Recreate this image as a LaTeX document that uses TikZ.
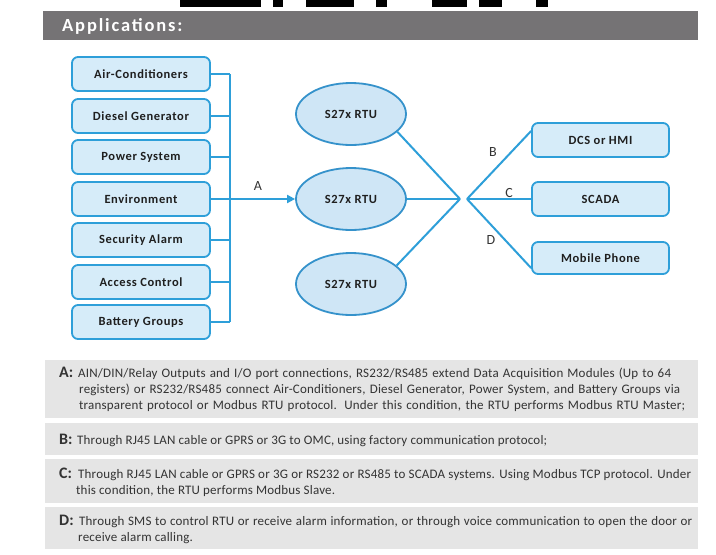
\documentclass[tikz,border=0pt]{standalone}
\usepackage{fontspec}
\setmainfont{Carlito}
\usetikzlibrary{shapes.geometric,arrows.meta}
\definecolor{hdr}{HTML}{757375}
\definecolor{boxfill}{HTML}{D6ECF9}
\definecolor{boxline}{HTML}{2E9FD9}
\definecolor{ellfill}{HTML}{CFE6F6}
\definecolor{ellline}{HTML}{3592CB}
\definecolor{panel}{HTML}{E5E5E5}
\definecolor{ptext}{HTML}{333333}
\newcommand\fitline[2]{\makebox[#1][s]{#2}}
\begin{document}
\begin{tikzpicture}[x=1pt,y=-1pt,
  appbox/.style={draw=boxline, line width=1.8pt, fill=boxfill, rounded corners=6pt,
    minimum width=138pt, minimum height=34pt, inner sep=0pt,
    font=\bfseries\fontsize{12.5}{14}\selectfont\addfontfeatures{LetterSpace=5}, text=black!88},
  rtu/.style={ellipse, draw=ellline, line width=1.8pt, fill=ellfill,
    minimum width=110pt, minimum height=62pt, inner sep=0pt,
    font=\bfseries\fontsize{12.5}{14}\selectfont\addfontfeatures{LetterSpace=5}, text=black!88},
  link/.style={draw=boxline, line width=2pt},
  lbl/.style={font=\fontsize{14}{14}\selectfont, text=black!80, inner sep=0pt},
  key/.style={font=\bfseries\fontsize{16}{16}\selectfont, text=ptext, anchor=base west, inner sep=0pt},
  desc/.style={font=\fontsize{13}{16}\selectfont\addfontfeatures{LetterSpace=1.5}, text=ptext, anchor=base west, inner sep=0pt},
  redact/.style={fill=black}
]
\useasboundingbox (0,0) rectangle (716,555);
\fill[white] (0,0) rectangle (716,555);
% redaction bars at top
\fill[redact] (180,0) rectangle (261,7);
\fill[redact] (273,0) rectangle (283,7);
\fill[redact] (306,0) rectangle (354,7);
\fill[redact] (376,0) rectangle (387,7);
\fill[redact] (432,0) rectangle (467,7);
\fill[redact] (479,0) rectangle (502,7);
\fill[redact] (536,0) rectangle (548,7);
% header
\node[fill=hdr, anchor=north west, minimum width=655pt, minimum height=29pt, inner sep=0pt] (header) at (43,11) {};
\node[anchor=base west, inner sep=0pt, text=white, font=\bfseries\fontsize{18.5}{20}\selectfont\addfontfeatures{LetterSpace=10}] (title) at (62,31) {Applications:};
% source boxes
\node[appbox] (ac)  at (141,74)  {Air-Conditioners};
\node[appbox] (dg)  at (141,116) {Diesel Generator};
\node[appbox] (ps)  at (141,157) {Power System};
\node[appbox] (env) at (141,199) {Environment};
\node[appbox] (sa)  at (141,240) {Security Alarm};
\node[appbox] (acc) at (141,282) {Access Control};
\node[appbox] (bg)  at (141,322) {Battery Groups};
% bus
\coordinate (bustop) at (230,74);
\coordinate (busbot) at (230,322);
\draw[link] (bustop) -- (busbot);
\foreach \n in {ac,dg,ps,sa,acc,bg}{\draw[link] (\n.east) -- (\n.east -| bustop);}
% RTUs
\node[rtu] (r1) at (351,114) {S27x RTU};
\node[rtu] (r2) at (351,199) {S27x RTU};
\node[rtu] (r3) at (351,284) {S27x RTU};
\draw[link,-{Triangle[length=8pt,width=8pt]}] (env.east) -- (r2.west);
\node[lbl] (la) at (258,186) {A};
% fan
\coordinate (fl) at (460,199);
\coordinate (fr) at (467,199);
\draw[link] (r1.-21) -- (fl);
\draw[link] (r2.east) -- (fl);
\draw[link] (r3.22) -- (fl);
% targets
\node[appbox, minimum width=137pt] (dcs) at (600.5,140) {DCS or HMI};
\node[appbox, minimum width=137pt] (scada) at (600.5,199) {SCADA};
\node[appbox, minimum width=137pt, minimum height=32pt] (mob) at (600.5,258) {Mobile Phone};
\draw[link] (fr) -- ([yshift=9pt]dcs.west);
\draw[link] (fr) -- (scada.west);
\draw[link] (fr) -- ([yshift=-10pt]mob.west);
\node[lbl] (lb) at (493,152) {B};
\node[lbl] (lc) at (509,193) {C};
\node[lbl] (ld) at (491,240) {D};
% panels
\fill[panel] (45,360) rectangle (698,418);
\fill[panel] (45,423) rectangle (698,455);
\fill[panel] (45,459) rectangle (698,503);
\fill[panel] (45,507) rectangle (698,549);
\node[key] (ka) at (59,377) {A:};
\node[desc] (a1) at (78,377) {\fitline{593pt}{AIN/DIN/Relay Outputs and I/O port connections, RS232/RS485 extend Data Acquisition Modules (Up to 64}};
\node[desc] (a2) at (79,393) {\fitline{601pt}{registers) or RS232/RS485 connect Air-Conditioners, Diesel Generator, Power System, and Battery Groups via}};
\node[desc] (a3) at (79,409) {\fitline{606pt}{transparent protocol or Modbus RTU protocol. Under this condition, the RTU performs Modbus RTU Master;}};
\node[key] (kb) at (59,444) {B:};
\node[desc] (b1) at (77,444) {Through RJ45 LAN cable or GPRS or 3G to OMC, using factory communication protocol;};
\node[key] (kc) at (59,478) {C:};
\node[desc] (c1) at (78,478) {\fitline{613pt}{Through RJ45 LAN cable or GPRS or 3G or RS232 or RS485 to SCADA systems. Using Modbus TCP protocol. Under}};
\node[desc] (c2) at (76,494) {this condition, the RTU performs Modbus Slave.};
\node[key] (kd) at (59,525) {D:};
\node[desc] (d1) at (79,525) {\fitline{613pt}{Through SMS to control RTU or receive alarm information, or through voice communication to open the door or}};
\node[desc] (d2) at (78,541) {receive alarm calling.};
\end{tikzpicture}
\end{document}
